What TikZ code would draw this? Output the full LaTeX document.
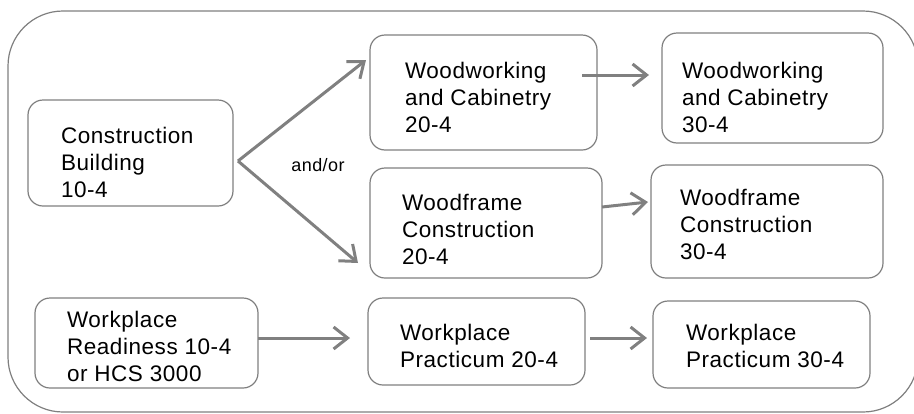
\documentclass[tikz,border=0pt]{standalone}
\usepackage{fontspec}
\setmainfont[LetterSpace=2.5]{Liberation Sans}
\usetikzlibrary{arrows.meta,calc}
\definecolor{frame}{HTML}{7F7F7F}
\definecolor{arr}{HTML}{808080}
\tikzset{
  box/.style={draw=frame, line width=1.2pt, rounded corners=15pt, inner sep=0pt, outer sep=0pt},
  label/.style={anchor=north west, inner sep=0pt, outer sep=0pt, align=left, text=black,
    font=\fontsize{22.5}{27}\selectfont},
  conn/.style={draw=arr, line width=3pt, -{Straight Barb[length=14pt,width=22pt,line width=3pt]}},
}
\begin{document}
\begin{tikzpicture}[x=1pt,y=-1pt]
\useasboundingbox (0,0) rectangle (914,413);
\clip (0,0) rectangle (914,413);
\draw[draw=frame, line width=1.2pt, rounded corners=55pt] (8,11) rectangle (918,412);

% boxes
\node[box, minimum width=205pt, minimum height=106pt] (b1) at (130.5,153) {};
\node[box, minimum width=227pt, minimum height=115pt] (b2) at (483.5,92.5) {};
\node[box, minimum width=221pt, minimum height=110pt] (b3) at (772.5,88) {};
\node[box, minimum width=232pt, minimum height=110pt] (b4) at (486,223) {};
\node[box, minimum width=232pt, minimum height=113pt] (b5) at (767,221.5) {};
\node[box, minimum width=223pt, minimum height=90pt] (b6) at (146.5,343) {};
\node[box, minimum width=217pt, minimum height=87pt] (b7) at (476.5,341.5) {};
\node[box, minimum width=217pt, minimum height=87pt] (b8) at (761.5,344.5) {};

% texts
\node[label] (t1) at (61,126.7) {Construction\\Building\\10-4};
\node[label] (t2) at (405,61.7) {Woodworking\\and Cabinetry\\20-4};
\node[label] (t3) at (682,61.7) {Woodworking\\and Cabinetry\\30-4};
\node[label] (t4) at (402,193.7) {Woodframe\\Construction\\20-4};
\node[label] (t5) at (680,188.7) {Woodframe\\Construction\\30-4};
\node[label] (t6) at (67,310.7) {Workplace\\Readiness 10-4\\or HCS 3000};
\node[label] (t7) at (400,323.7) {Workplace\\Practicum 20-4};
\node[label] (t8) at (686,323.7) {Workplace\\Practicum 30-4};

\node[inner sep=0pt, font=\fontsize{18}{20}\selectfont] (andor) at (318,165) {and/or};

% connectors
\coordinate (fork) at (238,161);
\coordinate (tipA) at (366,60);
\coordinate (tipB) at (358,263);
\draw[conn] (fork) -- (tipA);
\draw[conn] (fork) -- (tipB);
\draw[conn] ($(b2.east)+(-15,-17.5)$) -- ($(b3.west)+(-13,-13)$);
\draw[conn] ($(b4.east)+(0,-16)$) -- ($(b5.west)+(-3,-19.5)$);
\draw[conn] ($(b6.east)+(0,-5)$) -- ($(b7.west)+(-18,-3.5)$);
\draw[conn] ($(b7.east)+(5,-3.5)$) -- ($(b8.west)+(-6,-6.5)$);
\end{tikzpicture}
\end{document}
